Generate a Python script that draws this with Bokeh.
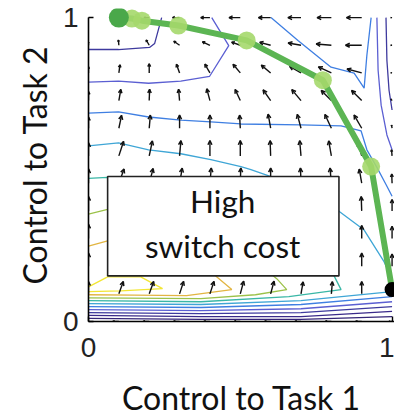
import numpy as np
from bokeh.plotting import figure
from bokeh.models import Range1d, FixedTicker
from bokeh.embed import file_html
from bokeh.resources import INLINE
from bokeh.core.properties import value

# ---- quiver grid ----
grid_x = [0.0, 0.1, 0.2, 0.3, 0.4, 0.5, 0.6, 0.7, 0.8, 0.9, 1.0]
grid_y = [1.0, 0.909, 0.818, 0.727, 0.636, 0.545, 0.455, 0.364, 0.273, 0.182, 0.091, 0.0]

# arrow direction (degrees) per row, top row first
arrow_angle = [
    [180, 180, 180, 180, 180, 180, 180, 180, 180, 180, 180],
    [90, 95, 120, 145, 155, 160, 165, 170, 175, 180, 180],
    [90, 82, 90, 110, 120, 130, 140, 150, 155, 165, 170],
    [90, 80, 88, 95, 105, 115, 125, 130, 135, 135, 125],
    [90, 78, 85, 90, 90, 93, 100, 105, 115, 120, 100],
    [90, 72, 78, 85, 90, 90, 92, 95, 100, 105, 95],
    [90, 70, 75, 80, 85, 88, 90, 92, 95, 100, 92],
    [90, 70, 72, 78, 82, 86, 88, 90, 92, 92, 90],
    [90, 68, 70, 75, 80, 84, 86, 88, 90, 90, 90],
    [90, 68, 70, 72, 76, 80, 84, 86, 88, 90, 90],
    [90, 70, 70, 72, 72, 75, 75, 80, 85, 90, 90],
    [180, 180, 180, 180, 180, 180, 180, 180, 180, 180, 180],
]
# arrow length per row (axis units)
arrow_len = [
    [0.003, 0.010, 0.017, 0.023, 0.030, 0.037, 0.040, 0.043, 0.047, 0.050, 0.004],
    [0.010, 0.017, 0.020, 0.023, 0.027, 0.030, 0.037, 0.043, 0.050, 0.053, 0.004],
    [0.020, 0.027, 0.030, 0.030, 0.033, 0.037, 0.040, 0.043, 0.047, 0.050, 0.004],
    [0.030, 0.037, 0.037, 0.037, 0.040, 0.040, 0.043, 0.047, 0.047, 0.047, 0.006],
    [0.037, 0.043, 0.043, 0.043, 0.043, 0.043, 0.047, 0.047, 0.050, 0.050, 0.010],
    [0.043, 0.050, 0.050, 0.050, 0.050, 0.050, 0.050, 0.050, 0.050, 0.047, 0.020],
    [0.047, 0.050, 0.050, 0.050, 0.050, 0.050, 0.050, 0.050, 0.050, 0.047, 0.030],
    [0.047, 0.050, 0.050, 0.050, 0.050, 0.050, 0.050, 0.050, 0.050, 0.047, 0.037],
    [0.047, 0.047, 0.047, 0.047, 0.047, 0.047, 0.047, 0.047, 0.047, 0.043, 0.040],
    [0.043, 0.043, 0.043, 0.043, 0.043, 0.043, 0.043, 0.043, 0.043, 0.043, 0.040],
    [0.040, 0.043, 0.043, 0.043, 0.043, 0.043, 0.043, 0.040, 0.040, 0.040, 0.030],
    [0.020, 0.020, 0.020, 0.020, 0.020, 0.020, 0.020, 0.020, 0.020, 0.020, 0.010],
]

# ---- contour lines (x list, y list, colour) ----
contours = [
    # upper family, darkest first
    ([0.0, 0.099, 0.201, 0.218, 0.241], [0.895, 0.895, 0.902, 0.915, 1.0], "#3e3a9e"),
    ([0.980, 0.983, 0.990, 1.0], [1.0, 0.859, 0.761, 0.696], "#3e3a9e"),
    ([0.0, 0.099, 0.198, 0.304, 0.399, 0.462, 0.406], [0.788, 0.791, 0.784, 0.791, 0.807, 0.908, 1.0], "#5b5fd2"),
    ([0.950, 0.954, 0.964, 0.983, 1.0], [1.0, 0.827, 0.712, 0.614, 0.565], "#5b5fd2"),
    ([0.0, 0.099, 0.198, 0.304, 0.403, 0.502, 0.700, 0.832, 0.898, 0.917, 0.950, 0.980, 1.0],
     [0.686, 0.690, 0.673, 0.663, 0.657, 0.650, 0.647, 0.644, 0.627, 0.565, 0.507, 0.451, 0.412], "#3f7fe2"),
    ([0.601, 0.690, 0.799, 0.875, 0.908, 0.917, 0.931], [1.0, 0.925, 0.837, 0.817, 0.768, 0.876, 1.0], "#3f7fe2"),
    ([0.0, 0.099, 0.198, 0.304, 0.403, 0.502, 0.535, 0.601, 0.700, 0.825, 0.908, 0.974, 1.0],
     [0.578, 0.588, 0.565, 0.552, 0.533, 0.510, 0.500, 0.477, 0.420, 0.363, 0.301, 0.196, 0.141], "#3fa6d6"),
    # loops around the high band near the bottom
    ([0.0, 0.063, 0.300, 0.700, 0.809, 0.832, 0.660, 0.370, 0.0],
     [0.471, 0.474, 0.420, 0.250, 0.150, 0.105, 0.082, 0.065, 0.069], "#3ab7a6"),
    ([0.0, 0.063, 0.300, 0.550, 0.620, 0.653, 0.550, 0.370, 0.0],
     [0.353, 0.369, 0.300, 0.200, 0.141, 0.105, 0.088, 0.075, 0.078], "#9cc24a"),
    ([0.0, 0.063, 0.200, 0.400, 0.422, 0.472, 0.323, 0.150, 0.0],
     [0.248, 0.265, 0.230, 0.170, 0.147, 0.105, 0.085, 0.087, 0.088], "#e2b542"),
    ([0.0, 0.063, 0.172, 0.244, 0.106, 0.0],
     [0.114, 0.147, 0.147, 0.108, 0.101, 0.098], "#f2e634"),
    # lower family running along the bottom edge
    ([0.0, 0.370, 0.700, 1.0], [0.059, 0.056, 0.069, 0.098], "#3fa6d6"),
    ([0.0, 0.370, 0.700, 1.0], [0.049, 0.046, 0.056, 0.082], "#3f7fe2"),
    ([0.0, 0.370, 0.700, 1.0], [0.039, 0.036, 0.042, 0.065], "#5b5fd2"),
    ([0.0, 0.370, 0.700, 1.0], [0.029, 0.026, 0.029, 0.049], "#3e3a9e"),
    ([0.0, 0.370, 0.700, 1.0], [0.020, 0.016, 0.016, 0.033], "#3a2a8a"),
    ([0.0, 0.370, 0.700, 1.0], [0.010, 0.007, 0.007, 0.016], "#352578"),
]

# ---- control trajectory ----
path_x = [0.100, 0.143, 0.176, 0.296, 0.521, 0.772, 0.931, 1.0]
path_y = [1.0, 0.997, 0.990, 0.974, 0.925, 0.794, 0.510, 0.105]

p = figure(width=394, height=419,
           x_range=Range1d(0, 1.008), y_range=Range1d(0, 1.03),
           output_backend="svg", toolbar_location=None,
           min_border_left=88, min_border_right=0,
           min_border_top=8, min_border_bottom=96)
p.outline_line_color = None
p.xgrid.visible = False
p.ygrid.visible = False
p.background_fill_color = "white"
p.border_fill_color = "white"

# contours
for cx, cy, col in contours:
    p.line(cx, cy, line_color=col, line_width=1.3)

# quiver arrows
xs0, ys0, xs1, ys1 = [], [], [], []
heads_x, heads_y = [], []
for j, gy in enumerate(grid_y):
    for i, gx in enumerate(grid_x):
        L = arrow_len[j][i]
        a = np.radians(arrow_angle[j][i])
        ex, ey = gx + L * np.cos(a), gy + L * np.sin(a)
        xs0.append(gx); ys0.append(gy); xs1.append(ex); ys1.append(ey)
        h = min(0.35 * L, 0.015)
        hx, hy = [], []
        for s in (+1, -1):
            b = a + np.pi + s * np.radians(26)
            hx.append(ex + h * np.cos(b)); hy.append(ey + h * np.sin(b))
        heads_x.append([hx[0], ex, hx[1]])
        heads_y.append([hy[0], ey, hy[1]])
p.segment(xs0, ys0, xs1, ys1, line_color="#111111", line_width=1.4)
p.multi_line(heads_x, heads_y, line_color="#111111", line_width=1.5)

# text box
p.quad(left=0.063, right=0.825, bottom=0.150, top=0.477,
       fill_color="white", line_color="#222222", line_width=1.6)
p.text(x=[0.442], y=[0.395], text=["High"], text_align="center",
       text_baseline="alphabetic", text_font=value("Lato"),
       text_font_size="31.5px", text_color="#111111")
p.text(x=[0.442], y=[0.248], text=["switch cost"], text_align="center",
       text_baseline="alphabetic", text_font=value("Lato"),
       text_font_size="31.5px", text_color="#111111")

# trajectory
p.line(path_x, path_y, line_color="#5cb553", line_width=6)
p.scatter(path_x[1:-1], path_y[1:-1], size=18, fill_color="#a5d86b",
          line_color=None, fill_alpha=0.9)
p.scatter(path_x[:1], path_y[:1], size=20, fill_color="#4aa84a", line_color=None)
p.scatter(path_x[-1:], path_y[-1:], size=15, fill_color="black", line_color=None)

# axes
for ax in (p.xaxis, p.yaxis):
    ax.ticker = FixedTicker(ticks=[0, 1])
    ax.minor_tick_line_color = None
    ax.major_tick_in = 5
    ax.major_tick_out = 0
    ax.axis_line_width = 1.6
    ax.axis_line_color = "black"
    ax.major_tick_line_color = "black"
    ax.major_tick_line_width = 1.4
    ax.major_label_text_font = "Liberation Sans"
    ax.major_label_text_font_size = "28px"
    ax.major_label_text_color = "#222222"
    ax.axis_label_text_font = "Lato"
    ax.axis_label_text_font_size = "32px"
    ax.axis_label_text_font_style = "normal"
    ax.axis_label_text_color = "#111111"
p.yaxis.bounds = (0, 1)
p.xaxis.axis_label = "Control to Task 1"
p.yaxis.axis_label = "Control to Task 2"
p.xaxis.major_label_standoff = 16
p.xaxis.axis_label_standoff = 18
p.yaxis.major_label_standoff = 10
p.yaxis.axis_label_standoff = 6

open("out.html", "w").write(file_html(p, INLINE))
